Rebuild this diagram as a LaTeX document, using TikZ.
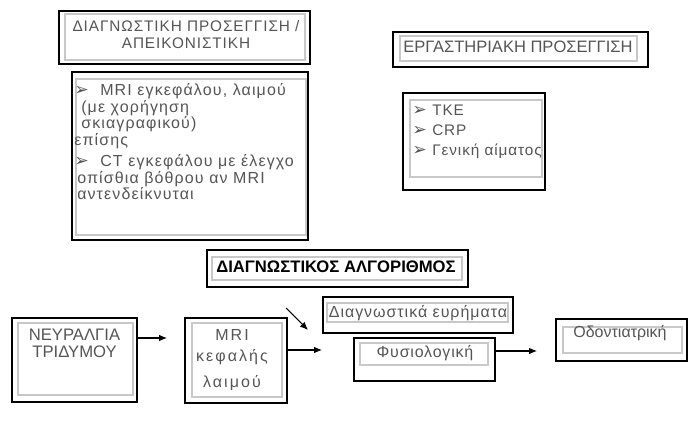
\documentclass[tikz,border=0pt]{standalone}
\usepackage{fontspec}
\setmainfont{Liberation Sans}
\newfontfamily\symfont{DejaVu Sans}
\usetikzlibrary{fit,arrows.meta}
\newlength\px
\setlength\px{0.75pt}
\newcommand{\bul}{{\symfont\fontsize{13}{13}\selectfont\char"27A2}}
\newcommand{\spaced}[1]{\addfontfeatures{LetterSpace=#1}}
\definecolor{txtgray}{RGB}{85,85,85}
\definecolor{linegray}{RGB}{200,200,200}
\begin{document}
\begin{tikzpicture}[
   x=0.75pt,y=-0.75pt,
   outer/.style={draw=black,line width=1pt,inner sep=0pt},
   inner/.style={draw=linegray,line width=0.9pt,inner sep=0pt},
   txt/.style={text=txtgray,inner sep=0pt,anchor=base},
   arr/.style={-{Latex[length=6pt,width=5pt]},line width=0.8pt}
 ]
  \useasboundingbox (0,0) rectangle (700,434);
  % boxes: outer frame, then light inner frame
  \foreach \n/\xa/\ya/\xb/\yb/\xc/\yc/\xd/\yd in {
      apr/59/11/310/64/65/14/305/60,
      lab/393/32/648/67/400/36/637/61,
      mri/72/72/308/240/76/79/306/235,
      tke/403/93/545/190/410/100/542/177,
      alg/207/250/468/287/212/257/462/280,
      neu/12/318/137/402/18/323/133/395,
      mrik/185/318/287/403/192/323/282/397,
      eur/323/297/513/333/327/303/508/322,
      fys/354/338/495/381/360/343/488/365,
      odo/556/319/687/361/563/327/682/353} {
    \node[outer,fit={(\xa,\ya)(\xb,\yb)}] (\n) {};
    \node[inner,fit={(\xc,\yc)(\xd,\yd)}] (\n-in) {};
  }

  % multi-line texts are placed by the baseline of their last line
  \node[txt,align=center,font={\fontsize{11.5}{12.75}\selectfont\spaced{6}}] (apr-t) at (186,49)
    {ΔΙΑΓΝΩΣΤΙΚΗ ΠΡΟΣΕΓΓΙΣΗ /\\ΑΠΕΙΚΟΝΙΣΤΙΚΗ};
  \node[txt,font={\fontsize{12.4}{15}\selectfont}] (lab-t) at (518,53) {ΕΡΓΑΣΤΗΡΙΑΚΗ ΠΡΟΣΕΓΓΙΣΗ};

  \node[txt,anchor=base west,align=left,font={\fontsize{12}{12.4}\selectfont\spaced{7}}] (mri-t) at (74,200)
    {\makebox[26\px][l]{\bul}MRI εγκεφάλου, λαιμού\\
     \hspace*{7\px}(με χορήγηση\\
     \hspace*{7\px}σκιαγραφικού)\\
     επίσης\\[3.9pt]
     \makebox[26\px][l]{\bul}CT εγκεφάλου με έλεγχο\\
     \hspace*{3\px}οπίσθια βόθρου αν MRI\\
     \hspace*{3\px}αντενδείκνυται};

  \node[txt,anchor=base west,align=left,font={\fontsize{11.5}{15}\selectfont\spaced{6}}] (tke-t) at (412,156)
    {\makebox[20\px][l]{\bul}ΤΚΕ\\
     \makebox[20\px][l]{\bul}CRP\\
     \makebox[20\px][l]{\bul}Γενική αίματος};

  \node[txt,text=black,font={\bfseries\fontsize{12.5}{15}\selectfont}] (alg-t) at (336,273) {ΔΙΑΓΝΩΣΤΙΚΟΣ ΑΛΓΟΡΙΘΜΟΣ};

  \node[txt,align=center,font={\fontsize{12.5}{12.75}\selectfont}] (neu-t) at (74.5,358) {ΝΕΥΡΑΛΓΙΑ\\ΤΡΙΔΥΜΟΥ};
  \node[txt,align=center,font={\fontsize{12}{15.75}\selectfont\spaced{13}}] (mrik-t) at (232,388) {MRI\\κεφαλής\\[3.75pt]λαιμού};
  \node[txt,font={\fontsize{12}{15}\selectfont\spaced{6}}] (eur-t) at (418,318) {Διαγνωστικά ευρήματα};
  \node[txt,font={\fontsize{12}{15}\selectfont\spaced{5}}] (fys-t) at (425,358) {Φυσιολογική};
  \node[txt,font={\fontsize{12}{15}\selectfont}] (odo-t) at (620,338) {Οδοντιατρική};

  % connectors
  \coordinate (p1) at (167,338);
  \coordinate (p2) at (322,350);
  \coordinate (p3) at (537,351);
  \coordinate (q0) at (286,308);
  \coordinate (q1) at (308,330);
  \draw[arr] (neu.east |- p1) -- (p1);
  \draw[arr] (mrik.east |- p2) -- (p2);
  \draw[arr] (fys.east |- p3) -- (p3);
  \draw[arr] (q0) -- (q1);
\end{tikzpicture}
\end{document}
